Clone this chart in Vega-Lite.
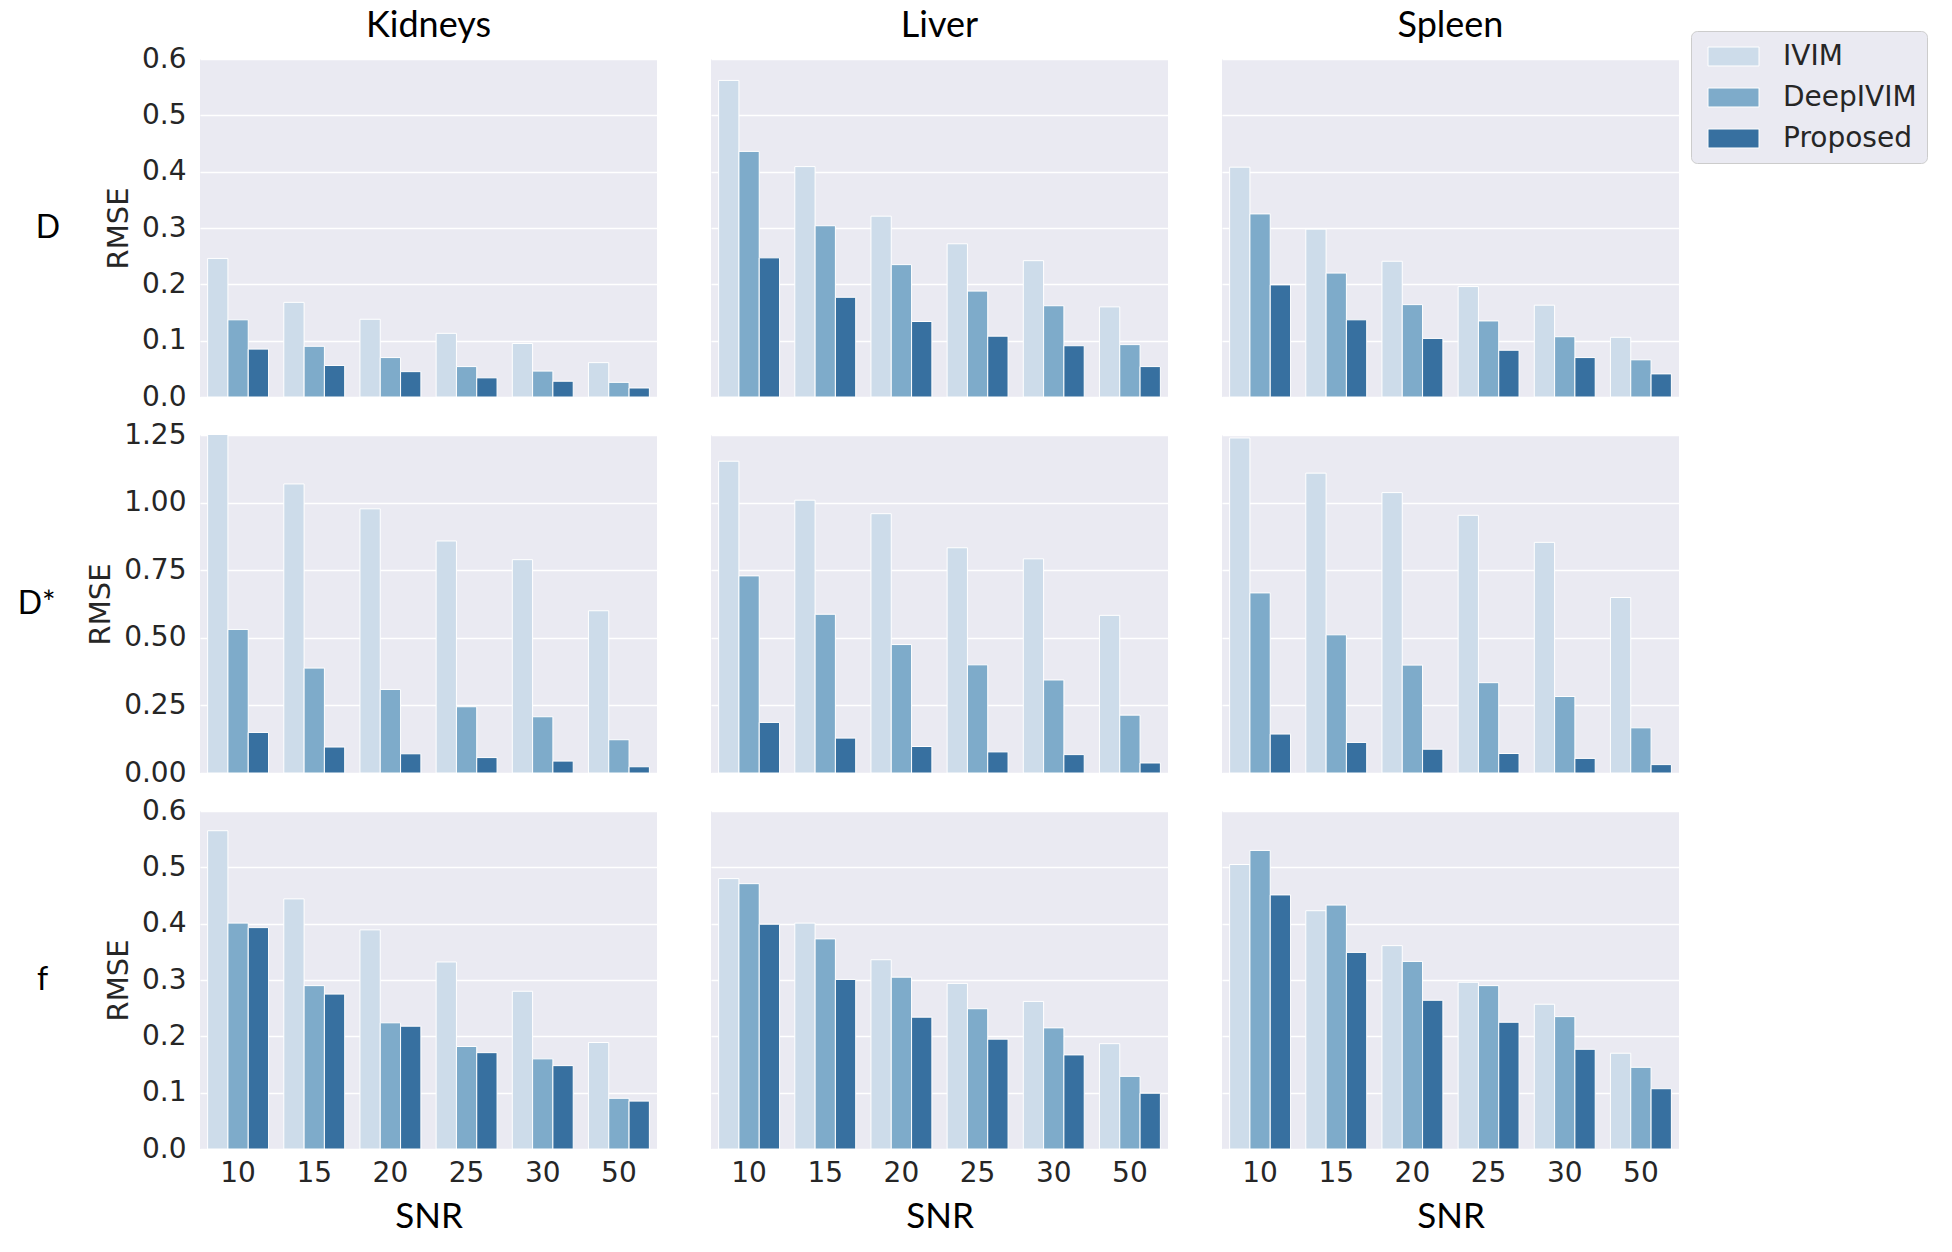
{
  "$schema": "https://vega.github.io/schema/vega-lite/v6.json",
  "padding": {"left": 17, "top": 8, "right": 5, "bottom": 4},
  "data": {"values": [
    {"param":"D","organ":"Kidneys","snr":"10","method":"IVIM","rmse":0.246},
    {"param":"D","organ":"Kidneys","snr":"10","method":"DeepIVIM","rmse":0.137},
    {"param":"D","organ":"Kidneys","snr":"10","method":"Proposed","rmse":0.085},
    {"param":"D","organ":"Kidneys","snr":"15","method":"IVIM","rmse":0.168},
    {"param":"D","organ":"Kidneys","snr":"15","method":"DeepIVIM","rmse":0.090},
    {"param":"D","organ":"Kidneys","snr":"15","method":"Proposed","rmse":0.056},
    {"param":"D","organ":"Kidneys","snr":"20","method":"IVIM","rmse":0.138},
    {"param":"D","organ":"Kidneys","snr":"20","method":"DeepIVIM","rmse":0.070},
    {"param":"D","organ":"Kidneys","snr":"20","method":"Proposed","rmse":0.045},
    {"param":"D","organ":"Kidneys","snr":"25","method":"IVIM","rmse":0.113},
    {"param":"D","organ":"Kidneys","snr":"25","method":"DeepIVIM","rmse":0.054},
    {"param":"D","organ":"Kidneys","snr":"25","method":"Proposed","rmse":0.034},
    {"param":"D","organ":"Kidneys","snr":"30","method":"IVIM","rmse":0.095},
    {"param":"D","organ":"Kidneys","snr":"30","method":"DeepIVIM","rmse":0.046},
    {"param":"D","organ":"Kidneys","snr":"30","method":"Proposed","rmse":0.028},
    {"param":"D","organ":"Kidneys","snr":"50","method":"IVIM","rmse":0.061},
    {"param":"D","organ":"Kidneys","snr":"50","method":"DeepIVIM","rmse":0.026},
    {"param":"D","organ":"Kidneys","snr":"50","method":"Proposed","rmse":0.016},
    {"param":"D","organ":"Liver","snr":"10","method":"IVIM","rmse":0.562},
    {"param":"D","organ":"Liver","snr":"10","method":"DeepIVIM","rmse":0.436},
    {"param":"D","organ":"Liver","snr":"10","method":"Proposed","rmse":0.247},
    {"param":"D","organ":"Liver","snr":"15","method":"IVIM","rmse":0.409},
    {"param":"D","organ":"Liver","snr":"15","method":"DeepIVIM","rmse":0.304},
    {"param":"D","organ":"Liver","snr":"15","method":"Proposed","rmse":0.177},
    {"param":"D","organ":"Liver","snr":"20","method":"IVIM","rmse":0.321},
    {"param":"D","organ":"Liver","snr":"20","method":"DeepIVIM","rmse":0.235},
    {"param":"D","organ":"Liver","snr":"20","method":"Proposed","rmse":0.134},
    {"param":"D","organ":"Liver","snr":"25","method":"IVIM","rmse":0.272},
    {"param":"D","organ":"Liver","snr":"25","method":"DeepIVIM","rmse":0.188},
    {"param":"D","organ":"Liver","snr":"25","method":"Proposed","rmse":0.108},
    {"param":"D","organ":"Liver","snr":"30","method":"IVIM","rmse":0.242},
    {"param":"D","organ":"Liver","snr":"30","method":"DeepIVIM","rmse":0.162},
    {"param":"D","organ":"Liver","snr":"30","method":"Proposed","rmse":0.091},
    {"param":"D","organ":"Liver","snr":"50","method":"IVIM","rmse":0.160},
    {"param":"D","organ":"Liver","snr":"50","method":"DeepIVIM","rmse":0.093},
    {"param":"D","organ":"Liver","snr":"50","method":"Proposed","rmse":0.054},
    {"param":"D","organ":"Spleen","snr":"10","method":"IVIM","rmse":0.408},
    {"param":"D","organ":"Spleen","snr":"10","method":"DeepIVIM","rmse":0.325},
    {"param":"D","organ":"Spleen","snr":"10","method":"Proposed","rmse":0.199},
    {"param":"D","organ":"Spleen","snr":"15","method":"IVIM","rmse":0.298},
    {"param":"D","organ":"Spleen","snr":"15","method":"DeepIVIM","rmse":0.220},
    {"param":"D","organ":"Spleen","snr":"15","method":"Proposed","rmse":0.137},
    {"param":"D","organ":"Spleen","snr":"20","method":"IVIM","rmse":0.241},
    {"param":"D","organ":"Spleen","snr":"20","method":"DeepIVIM","rmse":0.164},
    {"param":"D","organ":"Spleen","snr":"20","method":"Proposed","rmse":0.104},
    {"param":"D","organ":"Spleen","snr":"25","method":"IVIM","rmse":0.196},
    {"param":"D","organ":"Spleen","snr":"25","method":"DeepIVIM","rmse":0.135},
    {"param":"D","organ":"Spleen","snr":"25","method":"Proposed","rmse":0.083},
    {"param":"D","organ":"Spleen","snr":"30","method":"IVIM","rmse":0.163},
    {"param":"D","organ":"Spleen","snr":"30","method":"DeepIVIM","rmse":0.107},
    {"param":"D","organ":"Spleen","snr":"30","method":"Proposed","rmse":0.070},
    {"param":"D","organ":"Spleen","snr":"50","method":"IVIM","rmse":0.106},
    {"param":"D","organ":"Spleen","snr":"50","method":"DeepIVIM","rmse":0.066},
    {"param":"D","organ":"Spleen","snr":"50","method":"Proposed","rmse":0.041},
    {"param":"D*","organ":"Kidneys","snr":"10","method":"IVIM","rmse":1.28},
    {"param":"D*","organ":"Kidneys","snr":"10","method":"DeepIVIM","rmse":0.531},
    {"param":"D*","organ":"Kidneys","snr":"10","method":"Proposed","rmse":0.150},
    {"param":"D*","organ":"Kidneys","snr":"15","method":"IVIM","rmse":1.069},
    {"param":"D*","organ":"Kidneys","snr":"15","method":"DeepIVIM","rmse":0.388},
    {"param":"D*","organ":"Kidneys","snr":"15","method":"Proposed","rmse":0.096},
    {"param":"D*","organ":"Kidneys","snr":"20","method":"IVIM","rmse":0.977},
    {"param":"D*","organ":"Kidneys","snr":"20","method":"DeepIVIM","rmse":0.309},
    {"param":"D*","organ":"Kidneys","snr":"20","method":"Proposed","rmse":0.071},
    {"param":"D*","organ":"Kidneys","snr":"25","method":"IVIM","rmse":0.858},
    {"param":"D*","organ":"Kidneys","snr":"25","method":"DeepIVIM","rmse":0.245},
    {"param":"D*","organ":"Kidneys","snr":"25","method":"Proposed","rmse":0.057},
    {"param":"D*","organ":"Kidneys","snr":"30","method":"IVIM","rmse":0.789},
    {"param":"D*","organ":"Kidneys","snr":"30","method":"DeepIVIM","rmse":0.208},
    {"param":"D*","organ":"Kidneys","snr":"30","method":"Proposed","rmse":0.044},
    {"param":"D*","organ":"Kidneys","snr":"50","method":"IVIM","rmse":0.600},
    {"param":"D*","organ":"Kidneys","snr":"50","method":"DeepIVIM","rmse":0.123},
    {"param":"D*","organ":"Kidneys","snr":"50","method":"Proposed","rmse":0.023},
    {"param":"D*","organ":"Liver","snr":"10","method":"IVIM","rmse":1.153},
    {"param":"D*","organ":"Liver","snr":"10","method":"DeepIVIM","rmse":0.729},
    {"param":"D*","organ":"Liver","snr":"10","method":"Proposed","rmse":0.187},
    {"param":"D*","organ":"Liver","snr":"15","method":"IVIM","rmse":1.009},
    {"param":"D*","organ":"Liver","snr":"15","method":"DeepIVIM","rmse":0.587},
    {"param":"D*","organ":"Liver","snr":"15","method":"Proposed","rmse":0.129},
    {"param":"D*","organ":"Liver","snr":"20","method":"IVIM","rmse":0.959},
    {"param":"D*","organ":"Liver","snr":"20","method":"DeepIVIM","rmse":0.475},
    {"param":"D*","organ":"Liver","snr":"20","method":"Proposed","rmse":0.098},
    {"param":"D*","organ":"Liver","snr":"25","method":"IVIM","rmse":0.833},
    {"param":"D*","organ":"Liver","snr":"25","method":"DeepIVIM","rmse":0.400},
    {"param":"D*","organ":"Liver","snr":"25","method":"Proposed","rmse":0.078},
    {"param":"D*","organ":"Liver","snr":"30","method":"IVIM","rmse":0.792},
    {"param":"D*","organ":"Liver","snr":"30","method":"DeepIVIM","rmse":0.344},
    {"param":"D*","organ":"Liver","snr":"30","method":"Proposed","rmse":0.068},
    {"param":"D*","organ":"Liver","snr":"50","method":"IVIM","rmse":0.583},
    {"param":"D*","organ":"Liver","snr":"50","method":"DeepIVIM","rmse":0.214},
    {"param":"D*","organ":"Liver","snr":"50","method":"Proposed","rmse":0.037},
    {"param":"D*","organ":"Spleen","snr":"10","method":"IVIM","rmse":1.239},
    {"param":"D*","organ":"Spleen","snr":"10","method":"DeepIVIM","rmse":0.666},
    {"param":"D*","organ":"Spleen","snr":"10","method":"Proposed","rmse":0.144},
    {"param":"D*","organ":"Spleen","snr":"15","method":"IVIM","rmse":1.109},
    {"param":"D*","organ":"Spleen","snr":"15","method":"DeepIVIM","rmse":0.511},
    {"param":"D*","organ":"Spleen","snr":"15","method":"Proposed","rmse":0.113},
    {"param":"D*","organ":"Spleen","snr":"20","method":"IVIM","rmse":1.037},
    {"param":"D*","organ":"Spleen","snr":"20","method":"DeepIVIM","rmse":0.399},
    {"param":"D*","organ":"Spleen","snr":"20","method":"Proposed","rmse":0.088},
    {"param":"D*","organ":"Spleen","snr":"25","method":"IVIM","rmse":0.953},
    {"param":"D*","organ":"Spleen","snr":"25","method":"DeepIVIM","rmse":0.334},
    {"param":"D*","organ":"Spleen","snr":"25","method":"Proposed","rmse":0.072},
    {"param":"D*","organ":"Spleen","snr":"30","method":"IVIM","rmse":0.853},
    {"param":"D*","organ":"Spleen","snr":"30","method":"DeepIVIM","rmse":0.283},
    {"param":"D*","organ":"Spleen","snr":"30","method":"Proposed","rmse":0.054},
    {"param":"D*","organ":"Spleen","snr":"50","method":"IVIM","rmse":0.649},
    {"param":"D*","organ":"Spleen","snr":"50","method":"DeepIVIM","rmse":0.167},
    {"param":"D*","organ":"Spleen","snr":"50","method":"Proposed","rmse":0.031},
    {"param":"f","organ":"Kidneys","snr":"10","method":"IVIM","rmse":0.565},
    {"param":"f","organ":"Kidneys","snr":"10","method":"DeepIVIM","rmse":0.401},
    {"param":"f","organ":"Kidneys","snr":"10","method":"Proposed","rmse":0.393},
    {"param":"f","organ":"Kidneys","snr":"15","method":"IVIM","rmse":0.444},
    {"param":"f","organ":"Kidneys","snr":"15","method":"DeepIVIM","rmse":0.290},
    {"param":"f","organ":"Kidneys","snr":"15","method":"Proposed","rmse":0.275},
    {"param":"f","organ":"Kidneys","snr":"20","method":"IVIM","rmse":0.389},
    {"param":"f","organ":"Kidneys","snr":"20","method":"DeepIVIM","rmse":0.224},
    {"param":"f","organ":"Kidneys","snr":"20","method":"Proposed","rmse":0.218},
    {"param":"f","organ":"Kidneys","snr":"25","method":"IVIM","rmse":0.332},
    {"param":"f","organ":"Kidneys","snr":"25","method":"DeepIVIM","rmse":0.182},
    {"param":"f","organ":"Kidneys","snr":"25","method":"Proposed","rmse":0.171},
    {"param":"f","organ":"Kidneys","snr":"30","method":"IVIM","rmse":0.280},
    {"param":"f","organ":"Kidneys","snr":"30","method":"DeepIVIM","rmse":0.160},
    {"param":"f","organ":"Kidneys","snr":"30","method":"Proposed","rmse":0.148},
    {"param":"f","organ":"Kidneys","snr":"50","method":"IVIM","rmse":0.189},
    {"param":"f","organ":"Kidneys","snr":"50","method":"DeepIVIM","rmse":0.090},
    {"param":"f","organ":"Kidneys","snr":"50","method":"Proposed","rmse":0.085},
    {"param":"f","organ":"Liver","snr":"10","method":"IVIM","rmse":0.480},
    {"param":"f","organ":"Liver","snr":"10","method":"DeepIVIM","rmse":0.471},
    {"param":"f","organ":"Liver","snr":"10","method":"Proposed","rmse":0.399},
    {"param":"f","organ":"Liver","snr":"15","method":"IVIM","rmse":0.401},
    {"param":"f","organ":"Liver","snr":"15","method":"DeepIVIM","rmse":0.373},
    {"param":"f","organ":"Liver","snr":"15","method":"Proposed","rmse":0.301},
    {"param":"f","organ":"Liver","snr":"20","method":"IVIM","rmse":0.336},
    {"param":"f","organ":"Liver","snr":"20","method":"DeepIVIM","rmse":0.305},
    {"param":"f","organ":"Liver","snr":"20","method":"Proposed","rmse":0.234},
    {"param":"f","organ":"Liver","snr":"25","method":"IVIM","rmse":0.294},
    {"param":"f","organ":"Liver","snr":"25","method":"DeepIVIM","rmse":0.249},
    {"param":"f","organ":"Liver","snr":"25","method":"Proposed","rmse":0.195},
    {"param":"f","organ":"Liver","snr":"30","method":"IVIM","rmse":0.262},
    {"param":"f","organ":"Liver","snr":"30","method":"DeepIVIM","rmse":0.215},
    {"param":"f","organ":"Liver","snr":"30","method":"Proposed","rmse":0.167},
    {"param":"f","organ":"Liver","snr":"50","method":"IVIM","rmse":0.187},
    {"param":"f","organ":"Liver","snr":"50","method":"DeepIVIM","rmse":0.129},
    {"param":"f","organ":"Liver","snr":"50","method":"Proposed","rmse":0.099},
    {"param":"f","organ":"Spleen","snr":"10","method":"IVIM","rmse":0.505},
    {"param":"f","organ":"Spleen","snr":"10","method":"DeepIVIM","rmse":0.530},
    {"param":"f","organ":"Spleen","snr":"10","method":"Proposed","rmse":0.451},
    {"param":"f","organ":"Spleen","snr":"15","method":"IVIM","rmse":0.423},
    {"param":"f","organ":"Spleen","snr":"15","method":"DeepIVIM","rmse":0.433},
    {"param":"f","organ":"Spleen","snr":"15","method":"Proposed","rmse":0.349},
    {"param":"f","organ":"Spleen","snr":"20","method":"IVIM","rmse":0.361},
    {"param":"f","organ":"Spleen","snr":"20","method":"DeepIVIM","rmse":0.333},
    {"param":"f","organ":"Spleen","snr":"20","method":"Proposed","rmse":0.264},
    {"param":"f","organ":"Spleen","snr":"25","method":"IVIM","rmse":0.296},
    {"param":"f","organ":"Spleen","snr":"25","method":"DeepIVIM","rmse":0.290},
    {"param":"f","organ":"Spleen","snr":"25","method":"Proposed","rmse":0.225},
    {"param":"f","organ":"Spleen","snr":"30","method":"IVIM","rmse":0.257},
    {"param":"f","organ":"Spleen","snr":"30","method":"DeepIVIM","rmse":0.235},
    {"param":"f","organ":"Spleen","snr":"30","method":"Proposed","rmse":0.177},
    {"param":"f","organ":"Spleen","snr":"50","method":"IVIM","rmse":0.170},
    {"param":"f","organ":"Spleen","snr":"50","method":"DeepIVIM","rmse":0.145},
    {"param":"f","organ":"Spleen","snr":"50","method":"Proposed","rmse":0.107}
  ]},
  "spacing": 10,
  "vconcat": [
    {
      "transform": [{"filter": "datum.param === 'D'"}],
      "facet": {
        "row": {"field": "param", "type": "nominal", "header": {"title": null, "labelAngle": 0, "labelOrient": "left", "labelFont": "Lato", "labelFontSize": 32, "labelColor": "black", "labelPadding": 20}},
        "column": {"field": "organ", "type": "nominal", "sort": ["Kidneys", "Liver", "Spleen"], "header": {"title": null, "labelFont": "Lato", "labelFontSize": 36, "labelColor": "black", "labelPadding": 14}}
      },
      "spacing": {"column": 54},
      "spec": {
        "width": 457, "height": 338,
        "mark": {"type": "bar", "stroke": "white", "strokeWidth": 1, "clip": true},
        "encoding": {
          "x": {"field": "snr", "type": "ordinal", "sort": ["10","15","20","25","30","50"], "scale": {"paddingInner": 0.2, "paddingOuter": 0.1}, "axis": {"title": null, "labels": false}},
          "xOffset": {"field": "method", "type": "nominal", "sort": ["IVIM","DeepIVIM","Proposed"], "scale": {"paddingInner": 0, "paddingOuter": 0}},
          "y": {"field": "rmse", "type": "quantitative", "scale": {"domain": [0, 0.6], "nice": false}, "axis": {"title": "RMSE", "values": [0,0.1,0.2,0.3,0.4,0.5,0.6], "format": ".1f"}},
          "color": {"field": "method", "type": "nominal", "sort": ["IVIM","DeepIVIM","Proposed"], "scale": {"domain": ["IVIM","DeepIVIM","Proposed"], "range": ["#cddcea", "#7eabca", "#3770a0"]}}
        }
      }
    },
    {
      "transform": [{"filter": "datum.param === 'D*'"}],
      "facet": {
        "row": {"field": "param", "type": "nominal", "header": {"title": null, "labelAngle": 0, "labelOrient": "left", "labelFont": "Lato", "labelFontSize": 32, "labelColor": "black", "labelPadding": -7}},
        "column": {"field": "organ", "type": "nominal", "sort": ["Kidneys", "Liver", "Spleen"], "header": {"title": null, "labels": false}}
      },
      "spacing": {"column": 54},
      "spec": {
        "width": 457, "height": 338,
        "mark": {"type": "bar", "stroke": "white", "strokeWidth": 1, "clip": true},
        "encoding": {
          "x": {"field": "snr", "type": "ordinal", "sort": ["10","15","20","25","30","50"], "scale": {"paddingInner": 0.2, "paddingOuter": 0.1}, "axis": {"title": null, "labels": false}},
          "xOffset": {"field": "method", "type": "nominal", "sort": ["IVIM","DeepIVIM","Proposed"], "scale": {"paddingInner": 0, "paddingOuter": 0}},
          "y": {"field": "rmse", "type": "quantitative", "scale": {"domain": [0, 1.25], "nice": false}, "axis": {"title": "RMSE", "values": [0,0.25,0.5,0.75,1,1.25], "format": ".2f"}},
          "color": {"field": "method", "type": "nominal", "sort": ["IVIM","DeepIVIM","Proposed"], "scale": {"domain": ["IVIM","DeepIVIM","Proposed"], "range": ["#cddcea", "#7eabca", "#3770a0"]}}
        }
      }
    },
    {
      "transform": [{"filter": "datum.param === 'f'"}],
      "facet": {
        "row": {"field": "param", "type": "nominal", "header": {"title": null, "labelAngle": 0, "labelOrient": "left", "labelFont": "Lato", "labelFontSize": 32, "labelColor": "black", "labelPadding": 45}},
        "column": {"field": "organ", "type": "nominal", "sort": ["Kidneys", "Liver", "Spleen"], "header": {"title": null, "labels": false}}
      },
      "spacing": {"column": 54},
      "spec": {
        "width": 457, "height": 338,
        "mark": {"type": "bar", "stroke": "white", "strokeWidth": 1, "clip": true},
        "encoding": {
          "x": {"field": "snr", "type": "ordinal", "sort": ["10","15","20","25","30","50"], "scale": {"paddingInner": 0.2, "paddingOuter": 0.1}, "axis": {"title": "SNR", "labelAngle": 0, "labelPadding": 10, "titlePadding": 12, "titleFont": "Lato", "titleFontSize": 35, "titleColor": "black", "titleFontWeight": "normal"}},
          "xOffset": {"field": "method", "type": "nominal", "sort": ["IVIM","DeepIVIM","Proposed"], "scale": {"paddingInner": 0, "paddingOuter": 0}},
          "y": {"field": "rmse", "type": "quantitative", "scale": {"domain": [0, 0.6], "nice": false}, "axis": {"title": "RMSE", "values": [0,0.1,0.2,0.3,0.4,0.5,0.6], "format": ".1f"}},
          "color": {"field": "method", "type": "nominal", "sort": ["IVIM","DeepIVIM","Proposed"], "scale": {"domain": ["IVIM","DeepIVIM","Proposed"], "range": ["#cddcea", "#7eabca", "#3770a0"]}}
        }
      }
    }
  ],
  "config": {
    "view": {"fill": "#eaeaf2", "stroke": null},
    "axis": {"domain": false, "ticks": false, "gridColor": "white", "gridWidth": 1.5, "labelFont": "DejaVu Sans", "labelFontSize": 28, "labelColor": "#262626", "labelPadding": 14, "titleFont": "DejaVu Sans", "titleFontSize": 29, "titleFontWeight": "normal", "titleColor": "#262626", "titlePadding": 8},
    "axisX": {"grid": false},
    "legend": {"orient": "none", "legendX": 1491, "legendY": -28, "title": null, "labelFont": "DejaVu Sans", "labelFontSize": 28, "labelColor": "#262626", "symbolType": "M-1.7,-0.633H1.7V0.633H-1.7Z", "symbolSize": 900, "symbolStrokeWidth": 1, "symbolStrokeColor": "white", "symbolOffset": 17, "labelOffset": 34, "rowPadding": 11, "padding": 10, "fillColor": "#eaeaf2", "strokeColor": "#cccccc", "cornerRadius": 6}
  }
}
